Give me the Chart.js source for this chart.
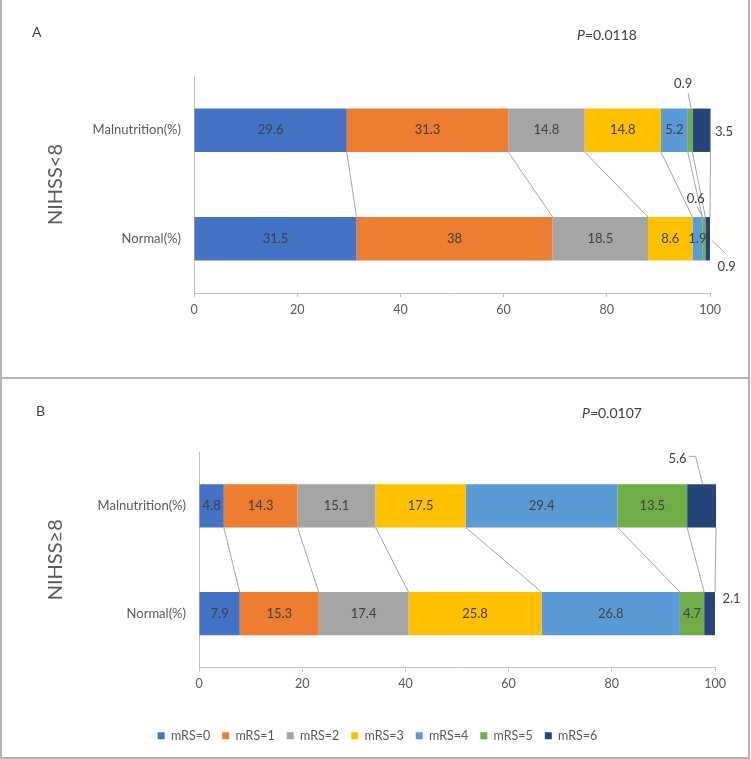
<!DOCTYPE html>
<html>
<head>
<meta charset="utf-8">
<script src="https://cdn.jsdelivr.net/npm/chart.js@4.4.1/dist/chart.umd.min.js"></script>
<style>
  body { margin: 0; background: #fff; }
  #wrap { position: relative; width: 751px; height: 759px; font-family: Lato, 'Open Sans', sans-serif; }
  .panel { position: absolute; left: 0; width: 751px; }
  .panel canvas { display: block; }
  .note { position: absolute; font-size: 14px; line-height: 16px; color: #404040; white-space: nowrap; }
  .rule { position: absolute; background: #b3b3b3; }
</style>
</head>
<body>
<div id="wrap">
  <div class="panel" style="top:0;height:378px"><canvas id="chartA" width="751" height="378"></canvas></div>
  <div class="panel" style="top:378px;height:381px"><canvas id="chartB" width="751" height="381"></canvas></div>

  <div class="note" style="left:32px;top:24px">A</div>
  <div class="note" style="left:577px;top:27px"><i>P</i>=0.0118</div>
  <div class="note" style="left:36px;top:403px">B</div>
  <div class="note" style="left:582px;top:405px"><i>P</i>=0.0107</div>

  <div class="rule" style="left:0;top:0;width:2px;height:759px"></div>
  <div class="rule" style="left:748px;top:0;width:2px;height:759px"></div>
  <div class="rule" style="left:0;top:377px;width:750px;height:2px"></div>
  <div class="rule" style="left:0;top:757px;width:750px;height:2px"></div>
</div>

<script>
// categories and series
const groups = ['Malnutrition(%)', 'Normal(%)'];
const mrsNames = ['mRS=0', 'mRS=1', 'mRS=2', 'mRS=3', 'mRS=4', 'mRS=5', 'mRS=6'];
const xTicks = [0, 20, 40, 60, 80, 100];

// NIHSS<8
const lowMal = [29.6, 31.3, 14.8, 14.8, 5.2, 0.9, 3.5];
const lowNormal = [31.5, 38, 18.5, 8.6, 1.9, 0.6, 0.9];
// NIHSS>=8
const highMal = [4.8, 14.3, 15.1, 17.5, 29.4, 13.5, 5.6];
const highNormal = [7.9, 15.3, 17.4, 25.8, 26.8, 4.7, 2.1];

const colors = ['#4472C4', '#ED7D31', '#A5A5A5', '#FFC000', '#5B9BD5', '#70AD47', '#264478'];
const FONT = "Lato, 'Open Sans', sans-serif";

// grey lines joining the segment edges of the two bars
const seriesLines = {
  id: 'seriesLines',
  beforeDatasetsDraw(chart) {
    const ctx = chart.ctx;
    ctx.save();
    ctx.strokeStyle = '#a5a5a5';
    ctx.lineWidth = 1;
    chart.data.datasets.forEach((ds, i) => {
      const meta = chart.getDatasetMeta(i);
      const a = meta.data[0], b = meta.data[1];
      ctx.beginPath();
      ctx.moveTo(a.x, a.y + a.height / 2);
      ctx.lineTo(b.x, b.y - b.height / 2);
      ctx.stroke();
    });
    ctx.restore();
  }
};

// value labels, small ones moved out with a leader line
const segLabels = {
  id: 'segLabels',
  afterDatasetsDraw(chart, args, opts) {
    const ctx = chart.ctx;
    const callouts = opts.callouts || {};
    ctx.save();
    ctx.font = '13px ' + FONT;
    ctx.textAlign = 'center';
    ctx.textBaseline = 'middle';
    chart.data.datasets.forEach((ds, i) => {
      chart.getDatasetMeta(i).data.forEach((bar, j) => {
        const cx = (bar.x + bar.base) / 2;
        const cy = bar.y;
        const txt = String(ds.data[j]);
        const c = callouts[i + '-' + j];
        if (c) {
          if (c.line) {
            ctx.strokeStyle = '#a5a5a5';
            ctx.lineWidth = 1;
            ctx.beginPath();
            c.line.forEach((p, k) => {
              if (k === 0) ctx.moveTo(cx + p[0], cy + p[1]);
              else ctx.lineTo(cx + p[0], cy + p[1]);
            });
            ctx.stroke();
          }
          ctx.fillStyle = '#404040';
          ctx.fillText(txt, cx + c.dx, cy + c.dy);
        } else {
          ctx.fillStyle = '#404040';
          ctx.fillText(txt, cx, cy);
        }
      });
    });
    ctx.restore();
  }
};

function makeChart(id, mal, normal, title, cfg) {
  const datasets = mrsNames.map((name, i) => ({
    label: name,
    data: [mal[i], normal[i]],
    backgroundColor: colors[i],
    borderWidth: 0,
    categoryPercentage: 0.8,
    barPercentage: 0.5,
    clip: false
  }));
  return new Chart(document.getElementById(id), {
    type: 'bar',
    data: { labels: groups, datasets: datasets },
    plugins: [seriesLines, segLabels],
    options: {
      indexAxis: 'y',
      responsive: false,
      animation: false,
      layout: { padding: cfg.padding },
      scales: {
        x: {
          stacked: true,
          min: 0,
          max: 100,
          grid: { drawOnChartArea: false, drawTicks: true, tickLength: 4, color: '#bfbfbf' },
          border: { color: '#bfbfbf' },
          ticks: { color: '#595959', font: { family: FONT, size: 12.5 }, padding: 5, maxRotation: 0, autoSkip: false },
          afterBuildTicks(s) { s.ticks = xTicks.map(v => ({ value: v })); },
          afterFit(s) { s.height = cfg.xHeight; }
        },
        y: {
          stacked: true,
          grid: { display: false, drawTicks: false },
          border: { display: true, color: '#bfbfbf' },
          ticks: { color: '#595959', font: { family: FONT, size: 13 }, padding: 13 },
          title: { display: true, text: title, color: '#595959', font: { family: FONT, size: 20 }, padding: { top: 4, bottom: 0 } },
          afterFit(s) { s.width = cfg.yWidth; }
        }
      },
      plugins: {
        legend: {
          display: cfg.legend,
          position: 'bottom',
          labels: { boxWidth: 7, boxHeight: 7, padding: 12, color: '#595959', font: { family: FONT, size: 12.5 } }
        },
        tooltip: { enabled: false },
        segLabels: { callouts: cfg.callouts }
      }
    }
  });
}

makeChart('chartA', lowMal, lowNormal, 'NIHSS<8', {
  padding: { left: 40, right: 41, top: 76, bottom: 45 },
  xHeight: 40,
  yWidth: 154,
  legend: false,
  callouts: {
    '5-0': { dx: -7, dy: -46, line: [[-2, -37], [1, -21.5]] },
    '6-0': { dx: 22.5, dy: 1.5 },
    '5-1': { dx: -8, dy: -40, line: [[-7, -33], [-1, -21.5]] },
    '6-1': { dx: 19, dy: 28, line: [[4, 1.5], [18, 15]] }
  }
});

makeChart('chartB', highMal, highNormal, 'NIHSS\u22658', {
  padding: { left: 40, right: 36, top: 74, bottom: 7 },
  xHeight: 50,
  yWidth: 159,
  legend: true,
  callouts: {
    '6-0': { dx: -24, dy: -47, line: [[-13, -49.5], [-6, -49.5], [1, -21.5]] },
    '6-1': { dx: 22, dy: -15 }
  }
});
</script>
</body>
</html>
